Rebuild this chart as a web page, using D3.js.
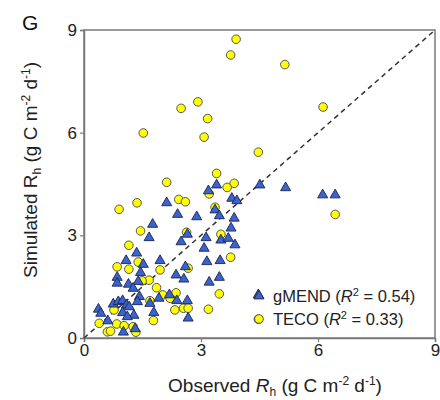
<!DOCTYPE html>
<html>
<head>
<meta charset="utf-8">
<script src="https://cdn.jsdelivr.net/npm/d3@7"></script>
<style>
  body { margin: 0; background: #fff; }
  svg { font-family: "Liberation Sans", Arial, sans-serif; }
</style>
</head>
<body>
<svg id="chart" width="440" height="400"></svg>
<script>
// observed vs simulated Rh, [obs, sim]
const gmend = [
  [3.40, 4.47], [3.19, 4.30], [3.79, 4.08], [3.92, 4.01], [2.12, 3.95], [2.40, 3.61],
  [2.89, 3.54], [3.36, 3.74], [3.47, 3.57], [3.85, 3.50], [1.76, 3.32], [3.77, 3.21],
  [1.67, 2.93], [2.65, 3.03], [3.13, 2.93], [2.49, 2.81], [3.51, 2.86], [3.70, 2.91],
  [3.08, 2.62], [3.87, 2.72], [1.35, 2.48], [1.08, 2.26], [1.52, 2.15], [1.95, 2.26],
  [2.60, 2.08], [3.15, 2.23], [3.49, 2.26], [1.45, 1.91], [0.85, 1.77], [2.36, 1.84],
  [2.56, 1.72], [3.21, 1.63], [3.47, 1.77], [0.85, 1.60], [1.14, 1.57], [1.39, 1.65],
  [1.26, 1.45], [2.19, 1.26], [1.92, 1.16], [1.42, 1.21], [1.69, 1.01], [2.65, 1.09],
  [2.38, 1.09], [4.47, 1.26], [0.75, 0.99], [0.88, 1.06], [0.99, 1.09], [1.09, 0.96],
  [1.37, 1.06], [1.16, 0.91], [0.99, 0.74], [1.28, 0.66], [0.37, 0.84], [0.43, 0.72],
  [0.61, 0.50], [1.79, 0.74], [2.67, 0.58], [1.01, 0.17], [1.31, 0.27], [1.11, 0.62],
  [4.51, 4.47], [5.17, 4.39], [6.12, 4.18], [6.44, 4.18]
];

const teco = [
  [3.90, 8.73], [3.76, 8.27], [2.92, 6.90], [2.49, 6.71], [3.17, 6.41], [1.52, 5.99],
  [3.08, 5.87], [4.47, 5.43], [3.40, 4.81], [5.15, 7.99], [6.13, 6.75], [6.44, 3.61],
  [2.12, 4.55], [3.85, 4.52], [3.67, 4.40], [3.21, 4.21], [0.90, 3.76], [1.36, 3.95],
  [2.43, 4.05], [2.60, 3.98], [3.36, 3.82], [1.45, 3.13], [2.63, 3.09], [3.51, 3.03],
  [1.15, 2.71], [1.39, 2.22], [0.85, 2.08], [1.15, 2.01], [1.95, 1.99], [2.67, 2.04],
  [3.76, 2.36], [1.67, 1.69], [1.49, 1.67], [1.86, 1.47], [2.02, 1.26], [2.36, 1.32],
  [3.47, 1.29], [1.69, 1.09], [2.21, 1.16], [2.55, 0.87], [2.67, 0.87], [2.33, 0.82],
  [3.19, 0.84], [1.78, 0.51], [4.47, 0.55], [0.39, 0.43], [0.84, 0.41], [1.03, 0.36],
  [1.26, 0.33], [0.60, 0.18], [0.68, 0.20], [1.33, 0.17], [0.77, 0.82]
];

const ticks = [0, 3, 6, 9];
const legendItems = [
  { name: 'gMEND', r2: '0.54' },
  { name: 'TECO', r2: '0.33' }
];

const svg = d3.select('#chart');
const plotLeft = 84, plotRight = 435, plotTop = 30, plotBottom = 338;

const x = d3.scaleLinear().domain([0, 9]).range([plotLeft, plotRight]);
const y = d3.scaleLinear().domain([0, 9]).range([plotBottom, plotTop]);

const triFill = '#3b63cc', triStroke = '#1b2450';
const cirFill = '#ffff00', cirStroke = '#555';

// frame
svg.append('rect')
  .attr('x', plotLeft).attr('y', plotTop)
  .attr('width', plotRight - plotLeft).attr('height', plotBottom - plotTop)
  .attr('fill', 'none').attr('stroke', '#7a7a7a').attr('stroke-width', 1.5);

// axes
const yAxis = svg.append('g')
  .attr('transform', `translate(${plotLeft},0)`)
  .call(d3.axisLeft(y).tickValues(ticks).tickSize(4).tickPadding(3));
const xAxis = svg.append('g')
  .attr('transform', `translate(0,${plotBottom})`)
  .call(d3.axisBottom(x).tickValues(ticks).tickSize(4).tickPadding(2));

[xAxis, yAxis].forEach(g => {
  g.select('.domain').attr('stroke', '#7a7a7a').attr('stroke-width', 1.5);
  g.selectAll('.tick line').attr('stroke', '#7a7a7a').attr('stroke-width', 1.2);
  g.selectAll('.tick text')
    .attr('font-size', 17)
    .attr('fill', '#222')
    .style('font-family', '"Liberation Sans", Arial, sans-serif');
});

// 1:1 line
svg.append('line')
  .attr('x1', x(0)).attr('y1', y(0))
  .attr('x2', x(9)).attr('y2', y(9))
  .attr('stroke', '#333').attr('stroke-width', 1.5)
  .attr('stroke-dasharray', '5,4');

// points
svg.append('g').selectAll('circle')
  .data(teco)
  .enter().append('circle')
  .attr('cx', d => x(d[0]))
  .attr('cy', d => y(d[1]))
  .attr('r', 4.3)
  .attr('fill', cirFill)
  .attr('stroke', cirStroke)
  .attr('stroke-width', 1);

const tri = d3.symbol().type(d3.symbolTriangle).size(44);
svg.append('g').selectAll('path')
  .data(gmend)
  .enter().append('path')
  .attr('d', tri)
  .attr('transform', d => `translate(${x(d[0])},${y(d[1])})`)
  .attr('fill', triFill)
  .attr('stroke', triStroke)
  .attr('stroke-width', 0.9);

// legend
const leg = svg.append('g');
legendItems.forEach((item, i) => {
  const cy = 296 + i * 23;
  if (i === 0) {
    leg.append('path').attr('d', tri)
      .attr('transform', `translate(259,${cy})`)
      .attr('fill', triFill).attr('stroke', triStroke).attr('stroke-width', 0.9);
  } else {
    leg.append('circle').attr('cx', 259).attr('cy', cy).attr('r', 4.3)
      .attr('fill', cirFill).attr('stroke', cirStroke);
  }
  const t = leg.append('text')
    .attr('x', 273).attr('y', cy + 6)
    .attr('font-size', 16.5).attr('fill', '#222');
  t.append('tspan').text(item.name + ' (');
  t.append('tspan').attr('font-style', 'italic').text('R');
  t.append('tspan').attr('font-size', 11).attr('dy', -6).text('2');
  t.append('tspan').attr('dy', 6).text(' = ' + item.r2 + ')');
});

// panel letter
svg.append('text').attr('x', 22).attr('y', 30)
  .attr('font-size', 21).attr('fill', '#111').text('G');

// x title
const xt = svg.append('text')
  .attr('x', 275).attr('y', 392)
  .attr('text-anchor', 'middle')
  .attr('font-size', 19).attr('fill', '#222');
xt.append('tspan').text('Observed ');
xt.append('tspan').attr('font-style', 'italic').text('R');
xt.append('tspan').attr('font-size', 12).attr('dy', 4).text('h');
xt.append('tspan').attr('dy', -4).text(' (g C m');
xt.append('tspan').attr('font-size', 12).attr('dy', -7).text('-2');
xt.append('tspan').attr('dy', 7).text(' d');
xt.append('tspan').attr('font-size', 12).attr('dy', -7).text('-1');
xt.append('tspan').attr('dy', 7).text(')');

// y title
const yt = svg.append('text')
  .attr('transform', 'translate(37,170) rotate(-90)')
  .attr('text-anchor', 'middle')
  .attr('font-size', 19).attr('fill', '#222');
yt.append('tspan').text('Simulated R');
yt.append('tspan').attr('font-size', 12).attr('dy', 4).text('h');
yt.append('tspan').attr('dy', -4).text(' (g C m');
yt.append('tspan').attr('font-size', 12).attr('dy', -7).text('-2');
yt.append('tspan').attr('dy', 7).text(' d');
yt.append('tspan').attr('font-size', 12).attr('dy', -7).text('-1');
yt.append('tspan').attr('dy', 7).text(')');
</script>
</body>
</html>
